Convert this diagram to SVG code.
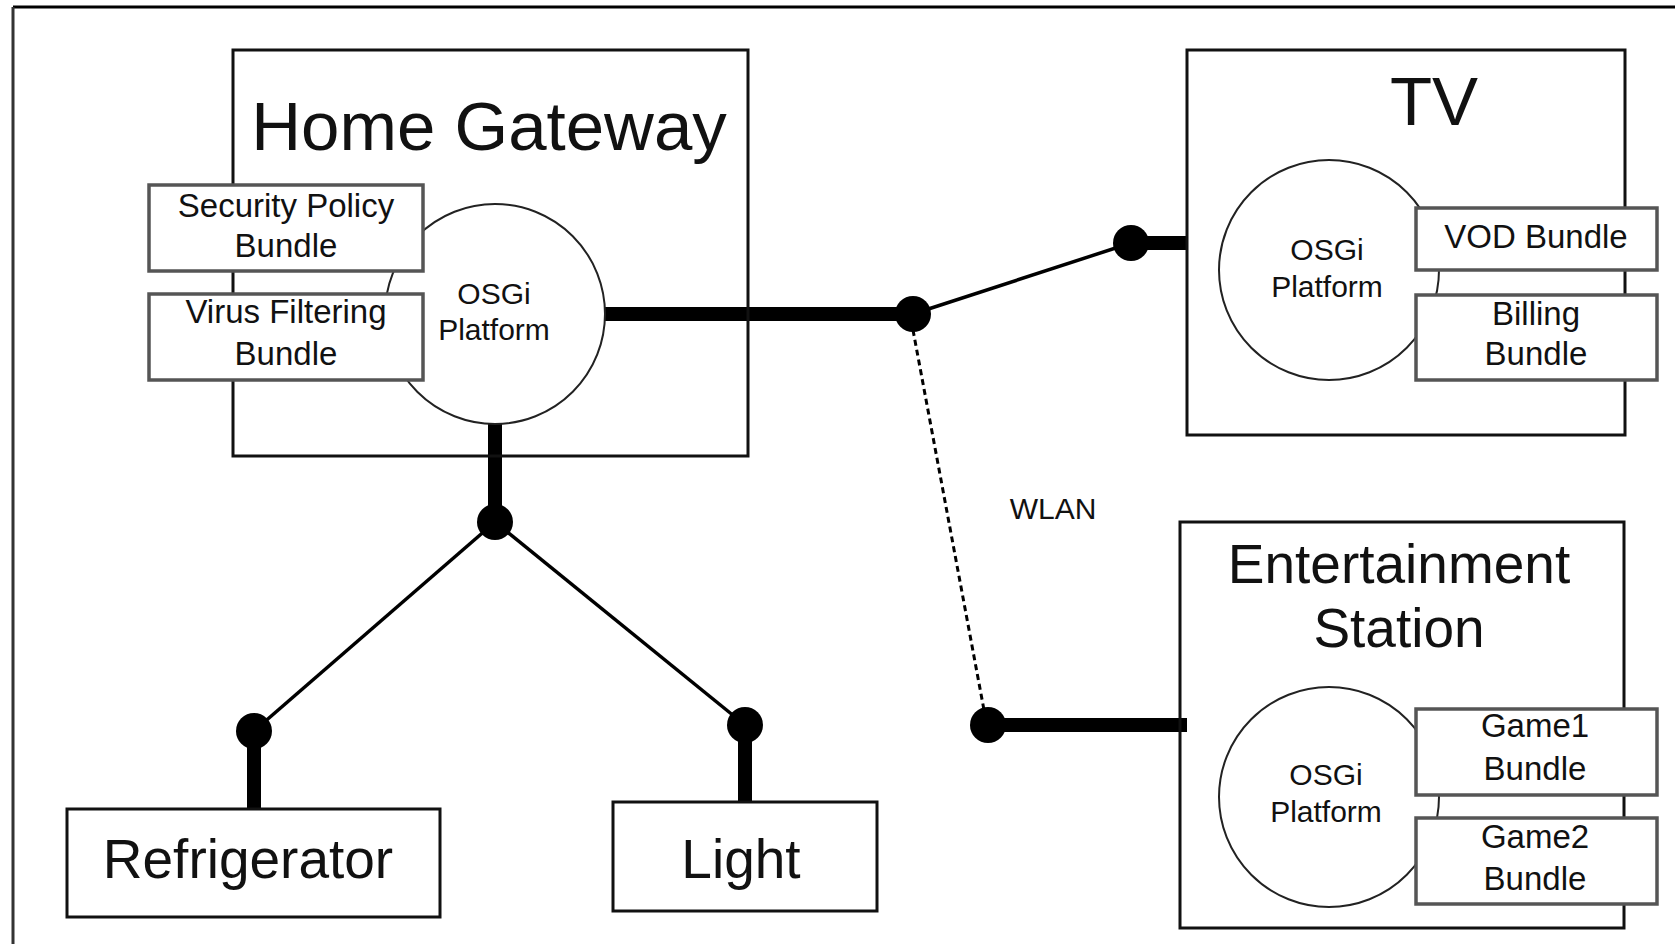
<svg xmlns="http://www.w3.org/2000/svg" width="1675" height="944" viewBox="0 0 1675 944">
<style>
.box{fill:none;stroke:#111;stroke-width:3}
.bundle{fill:#fff;stroke:#555;stroke-width:3.5}
.osgi{fill:#fff;stroke:#222;stroke-width:2}
text{font-family:"Liberation Sans",Arial,sans-serif;fill:#111;text-anchor:middle}
.big{font-size:69px}
.mid{font-size:55px}
.sm{font-size:33px}
.osgit{font-size:30px}
.thick{stroke:#000;stroke-width:14;fill:none}
.thin{stroke:#000;stroke-width:3.5;fill:none}
.dash{stroke:#000;stroke-width:3;fill:none;stroke-dasharray:6 4}
.dot{fill:#000}
</style>
<rect width="1675" height="944" fill="#fff"/>
<g id="frame">
<line x1="13" y1="7" x2="1675" y2="7" stroke="#000" stroke-width="3"/>
<line x1="13" y1="7" x2="13" y2="944" stroke="#333" stroke-width="3"/>
</g>
<g id="connectors">
<line class="thick" x1="600" y1="314" x2="913" y2="314"/>
<line class="thin" x1="913" y1="314" x2="1131" y2="243"/>
<line class="thick" x1="1131" y1="243" x2="1188" y2="243"/>
<line class="dash" x1="913" y1="330" x2="984" y2="710"/>
<line class="thick" x1="988" y1="725" x2="1187" y2="725"/>
<line class="thick" x1="495" y1="420" x2="495" y2="522"/>
<line class="thin" x1="495" y1="522" x2="254" y2="731"/>
<line class="thin" x1="495" y1="522" x2="745" y2="725"/>
<line class="thick" x1="254" y1="731" x2="254" y2="809"/>
<line class="thick" x1="745" y1="725" x2="745" y2="802"/>
<circle class="dot" cx="913" cy="314" r="18"/>
<circle class="dot" cx="1131" cy="243" r="18"/>
<circle class="dot" cx="988" cy="725" r="18"/>
<circle class="dot" cx="495" cy="522" r="18"/>
<circle class="dot" cx="254" cy="731" r="18"/>
<circle class="dot" cx="745" cy="725" r="18"/>
</g>
<g id="home-gateway">
<rect class="box" x="233" y="50" width="515" height="406"/>
<text class="big" x="489" y="150">Home Gateway</text>
<circle class="osgi" cx="495" cy="314" r="110"/>
<text class="osgit" x="494" y="304">OSGi</text>
<text class="osgit" x="494" y="340">Platform</text>
<g id="security-policy-bundle">
<rect class="bundle" x="149" y="185" width="274" height="86"/>
<text class="sm" x="286" y="217">Security Policy</text>
<text class="sm" x="286" y="257">Bundle</text>
</g>
<g id="virus-filtering-bundle">
<rect class="bundle" x="149" y="294" width="274" height="86"/>
<text class="sm" x="286" y="323">Virus Filtering</text>
<text class="sm" x="286" y="365">Bundle</text>
</g>
</g>
<g id="tv">
<rect class="box" x="1187" y="50" width="438" height="385"/>
<text class="big" x="1434" y="125">TV</text>
<circle class="osgi" cx="1329" cy="270" r="110"/>
<text class="osgit" x="1327" y="260">OSGi</text>
<text class="osgit" x="1327" y="297">Platform</text>
<g id="vod-bundle">
<rect class="bundle" x="1416" y="208" width="241" height="62"/>
<text class="sm" x="1536" y="248">VOD Bundle</text>
</g>
<g id="billing-bundle">
<rect class="bundle" x="1416" y="295" width="241" height="85"/>
<text class="sm" x="1536" y="325">Billing</text>
<text class="sm" x="1536" y="365">Bundle</text>
</g>
</g>
<g id="entertainment-station">
<rect class="box" x="1180" y="522" width="444" height="406"/>
<text class="mid" x="1399" y="583">Entertainment</text>
<text class="mid" x="1399" y="647">Station</text>
<circle class="osgi" cx="1329" cy="797" r="110"/>
<text class="osgit" x="1326" y="785">OSGi</text>
<text class="osgit" x="1326" y="822">Platform</text>
<g id="game1-bundle">
<rect class="bundle" x="1416" y="709" width="241" height="86"/>
<text class="sm" x="1535" y="737">Game1</text>
<text class="sm" x="1535" y="780">Bundle</text>
</g>
<g id="game2-bundle">
<rect class="bundle" x="1416" y="818" width="241" height="86"/>
<text class="sm" x="1535" y="848">Game2</text>
<text class="sm" x="1535" y="890">Bundle</text>
</g>
</g>
<g id="refrigerator">
<rect class="box" x="67" y="809" width="373" height="108"/>
<text class="mid" x="248" y="878">Refrigerator</text>
</g>
<g id="light">
<rect class="box" x="613" y="802" width="264" height="109"/>
<text class="mid" x="741" y="878">Light</text>
</g>
<g id="wlan-label">
<text class="osgit" x="1053" y="519">WLAN</text>
</g>
</svg>
